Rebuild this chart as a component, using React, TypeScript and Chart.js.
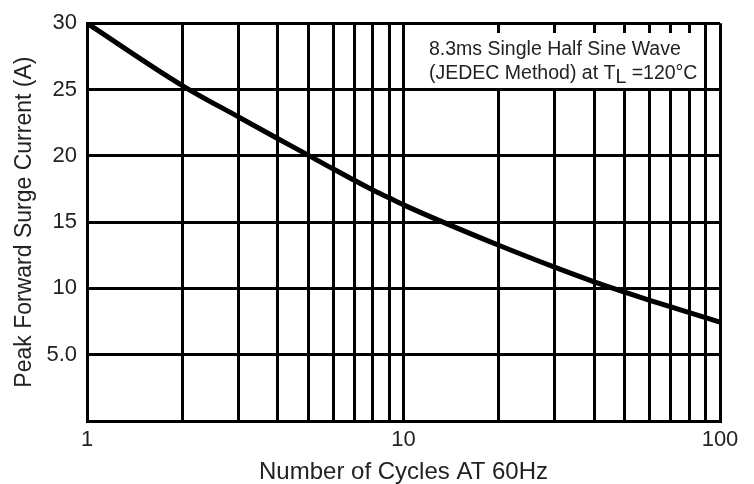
import React, { useEffect, useRef } from 'react';
import { Chart, registerables } from 'chart.js';

Chart.register(...registerables);

// ---- data ----
const cycles = [1, 2, 3, 4, 5, 6, 7, 8, 9, 10, 20, 30, 40, 50, 60, 70, 80, 90, 100];
const peakSurgeCurrent = [30, 25.3, 22.95, 21.3, 20.05, 19.0, 18.15, 17.42, 16.83, 16.3, 13.25, 11.6, 10.5, 9.72, 9.1, 8.6, 8.18, 7.8, 7.45];

const xGridValues = [1, 2, 3, 4, 5, 6, 7, 8, 9, 10, 20, 30, 40, 50, 60, 70, 80, 90, 100];
const xLabeledValues = [1, 10, 100];
const xTickLabels = ['1', '10', '100'];

const yTickValues = [0, 5, 10, 15, 20, 25, 30];
const yTickLabels = ['', '5.0', '10', '15', '20', '25', '30'];

const xTitle = 'Number of Cycles AT 60Hz';
const yTitle = 'Peak Forward Surge Current (A)';

const noteLine1 = '8.3ms Single Half Sine Wave';
const noteLine2Parts = ['(JEDEC Method) at T', 'L', ' =120°C'];
const noteBoxX = [10, 90];
const noteBoxY = [25, 29.25];

const FONT = '"Liberation Sans", Arial, sans-serif';
const TEXT = '#222';

const noteBoxPlugin = {
  id: 'noteBox',
  beforeDatasetsDraw(chart: any) {
    const { ctx, scales } = chart;
    const x = scales.x;
    const y = scales.y;
    const xl = x.getPixelForValue(noteBoxX[0]);
    const xr = x.getPixelForValue(noteBoxX[1]);
    const yb = y.getPixelForValue(noteBoxY[0]);
    const yt = y.getPixelForValue(noteBoxY[1]);
    const left = Math.round(xl - 1.5) + 3;
    const right = Math.round(xr - 1.5);
    const bottom = Math.round(yb - 1.5);
    const top = Math.round(yt);
    ctx.save();
    ctx.fillStyle = '#fff';
    ctx.fillRect(left, top, right - left, bottom - top);
    ctx.fillStyle = TEXT;
    ctx.font = `19.5px ${FONT}`;
    ctx.textBaseline = 'middle';
    ctx.textAlign = 'left';
    const tx = left + 24;
    ctx.fillText(noteLine1, tx, top + 17);
    const ly = top + 41;
    let cx = tx;
    ctx.fillText(noteLine2Parts[0], cx, ly);
    cx += ctx.measureText(noteLine2Parts[0]).width;
    ctx.fillText(noteLine2Parts[1], cx, ly + 4);
    cx += ctx.measureText(noteLine2Parts[1]).width;
    ctx.fillText(noteLine2Parts[2], cx, ly);
    ctx.restore();
  },
};

export default function App() {
  const ref = useRef<HTMLCanvasElement | null>(null);

  useEffect(() => {
    if (!ref.current) return;
    const chart = new Chart(ref.current, {
      type: 'line',
      data: {
        datasets: [
          {
            data: cycles.map((c, i) => ({ x: c, y: peakSurgeCurrent[i] })),
            borderColor: '#000',
            borderWidth: 5,
            pointRadius: 0,
            cubicInterpolationMode: 'monotone',
            fill: false,
          },
        ],
      },
      options: {
        responsive: false,
        animation: false,
        devicePixelRatio: 1,
        layout: { padding: { left: 0, top: 20, right: 34, bottom: 0 } },
        plugins: { legend: { display: false }, tooltip: { enabled: false } },
        scales: {
          x: {
            type: 'logarithmic',
            min: 1,
            max: 100,
            afterBuildTicks: (s: any) => {
              s.ticks = xGridValues.map((v) => ({ value: v }));
            },
            afterFit: (s: any) => {
              s.height = 63;
            },
            grid: { color: '#000', lineWidth: 3, drawTicks: false },
            border: { color: '#000', width: 3 },
            ticks: {
              autoSkip: false,
              maxRotation: 0,
              padding: 6,
              color: TEXT,
              font: { family: FONT, size: 22 },
              callback: (v: any) => {
                const i = xLabeledValues.indexOf(Number(v));
                return i >= 0 ? xTickLabels[i] : '';
              },
            },
            title: {
              display: true,
              text: xTitle,
              color: TEXT,
              font: { family: FONT, size: 24, lineHeight: 1 },
              padding: { top: 0, bottom: 0 },
            },
          },
          y: {
            type: 'linear',
            min: 0,
            max: 30,
            afterBuildTicks: (s: any) => {
              s.ticks = yTickValues.map((v) => ({ value: v }));
            },
            afterFit: (s: any) => {
              s.width = 87;
            },
            grid: { color: '#000', lineWidth: 3, drawTicks: false },
            border: { color: '#000', width: 3 },
            ticks: {
              padding: 10,
              color: TEXT,
              font: { family: FONT, size: 22 },
              callback: (v: any) => {
                const i = yTickValues.indexOf(Number(v));
                return i >= 0 ? yTickLabels[i] : '';
              },
            },
            title: {
              display: true,
              text: yTitle,
              color: TEXT,
              font: { family: FONT, size: 23, lineHeight: 1 },
              padding: { top: 13, bottom: 0 },
            },
          },
        },
      },
      plugins: [noteBoxPlugin],
    } as any);
    return () => chart.destroy();
  }, []);

  return (
    <div style={{ position: 'absolute', left: 0, top: 0, width: 754, height: 484, background: '#fff' }}>
      <canvas ref={ref} width={754} height={484} style={{ display: 'block', width: 754, height: 484 }} />
    </div>
  );
}
